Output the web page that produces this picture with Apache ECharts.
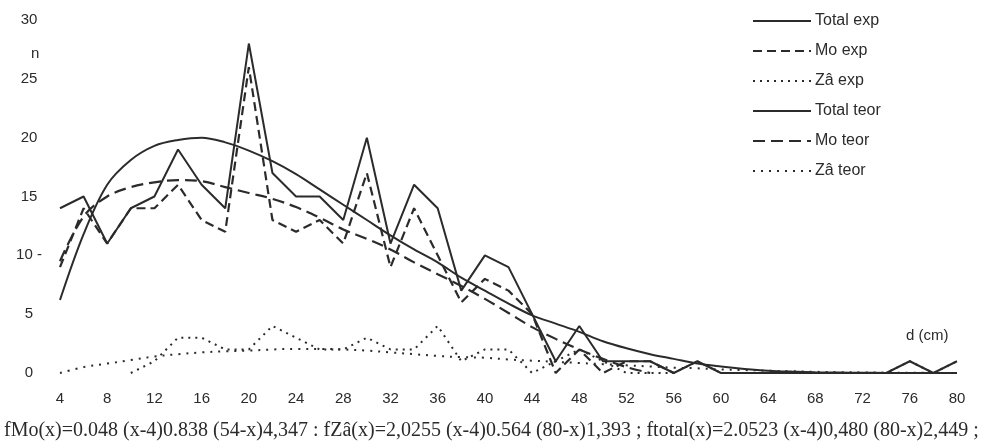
<!DOCTYPE html>
<html>
<head>
<meta charset="utf-8">
<script src="https://cdn.jsdelivr.net/npm/echarts@6/dist/echarts.min.js"></script>
<style>
  html, body { margin: 0; padding: 0; background: #fff; }
  #chart { width: 984px; height: 447px; }
</style>
</head>
<body>
<div id="chart"></div>
<script>
// Diameter classes (cm)
const diameters = [4, 6, 8, 10, 12, 14, 16, 18, 20, 22, 24, 26, 28, 30, 32, 34, 36, 38, 40, 42,
                   44, 46, 48, 50, 52, 54, 56, 58, 60, 62, 64, 66, 68, 70, 72, 74, 76, 78, 80];

// Observed numbers of trees per class
const totalExp = [14, 15, 11, 14, 15, 19, 16, 14, 28, 17, 15, 15, 13, 20, 11, 16, 14, 7, 10, 9,
                  5, 1, 4, 1, 1, 1, 0, 1, 0, 0, 0, 0, 0, 0, 0, 0, 1, 0, 1];
const moExp    = [9, 14, 11, 14, 14, 16, 13, 12, 26, 13, 12, 13, 11, 17, 9, 14, 10, 6, 8, 7,
                  5, 0, 2, 0, 1, 1, 0, null, null, null, null, null, null, null, null, null, null, null, null];
const zaExp    = [null, null, null, 0, 1, 3, 3, 2, 2, 4, 3, 2, 2, 3, 2, 2, 4, 1, 2, 2,
                  0, 1, 2, 1, 0, 0, 0, 1, 0, 0, 0, 0, 0, 0, 0, 0, 1, 0, 1];

// Fitted (theoretical) distributions
const totalTeor = [6.2, 11.8, 16.0, 18.1, 19.3, 19.8, 20.0, 19.6, 18.9, 18.0, 16.9, 15.6, 14.3, 13.0, 11.7, 10.5, 9.4, 8.1, 7.0, 5.9,
                   4.9, 4.2, 3.5, 2.7, 2.1, 1.6, 1.2, 0.8, 0.55, 0.35, 0.2, 0.12, 0.07, 0.04, 0.02, 0.01, 0, 0, 0];
const moTeor    = [9.5, 13.3, 15.0, 15.8, 16.2, 16.4, 16.3, 15.8, 15.3, 14.8, 14.1, 13.2, 12.2, 11.4, 10.5, 9.4, 8.4, 7.4, 6.3, 5.1,
                   3.9, 2.9, 2.0, 1.2, 0.5, 0, null, null, null, null, null, null, null, null, null, null, null, null, null];
const zaTeor    = [0, 0.5, 0.8, 1.1, 1.4, 1.6, 1.75, 1.85, 1.9, 2.0, 2.05, 2.05, 2.0, 1.9, 1.75, 1.6, 1.45, 1.35, 1.3, 1.15,
                   1.05, 0.95, 0.85, 0.75, 0.65, 0.55, 0.45, 0.4, 0.3, 0.25, 0.2, 0.15, 0.1, 0.07, 0.05, 0.03, 0.02, 0.01, 0];

// Axis ticks
const xTicks = [4, 8, 12, 16, 20, 24, 28, 32, 36, 40, 44, 48, 52, 56, 60, 64, 68, 72, 76, 80];
const yTicks = [0, 5, 10, 15, 20, 25, 30];

const seriesNames = ['Total exp', 'Mo exp', 'Zâ exp', 'Total teor', 'Mo teor', 'Zâ teor'];
const formulaText = 'fMo(x)=0.048 (x-4)0.838 (54-x)4,347 : fZâ(x)=2,0255 (x-4)0.564 (80-x)1,393 ; ftotal(x)=2.0523 (x-4)0,480 (80-x)2,449 ;';

const ink = '#2b2b2b';
const sans = 'Liberation Sans, Arial, sans-serif';
const pairs = vals => diameters.map((d, i) => [d, vals[i]]);

function lineSeries(name, vals, width, type, smooth) {
  return {
    name: name,
    type: 'line',
    data: pairs(vals),
    symbol: 'none',
    smooth: smooth ? 0.35 : false,
    connectNulls: false,
    lineStyle: { color: ink, width: width, type: type, cap: 'butt' },
    itemStyle: { color: ink },
    emphasis: { disabled: true },
    animation: false
  };
}

const chart = echarts.init(document.getElementById('chart'), null, { renderer: 'canvas' });
chart.setOption({
  backgroundColor: '#ffffff',
  animation: false,
  grid: { left: 60, right: 27, top: 20, bottom: 74 },
  title: {
    text: 'n', left: 26, top: 41,
    textStyle: { fontFamily: sans, fontSize: 15, fontWeight: 'normal', color: ink }
  },
  legend: {
    orient: 'vertical',
    left: 752, top: 13,
    padding: 0,
    itemWidth: 58, itemHeight: 14, itemGap: 14,
    itemStyle: { opacity: 0 },
    data: seriesNames,
    textStyle: { fontFamily: sans, fontSize: 16, color: ink, padding: [0, 0, 0, -1] }
  },
  xAxis: {
    type: 'value',
    min: xTicks[0], max: xTicks[xTicks.length - 1], interval: 4,
    axisLine: { show: false }, axisTick: { show: false }, splitLine: { show: false },
    axisLabel: { margin: 18, fontFamily: sans, fontSize: 15, color: ink }
  },
  yAxis: {
    type: 'value',
    min: yTicks[0], max: yTicks[yTicks.length - 1], interval: 5,
    axisLine: { show: false }, axisTick: { show: false }, splitLine: { show: false },
    axisLabel: {
      margin: 31, align: 'center',
      fontFamily: sans, fontSize: 15, color: ink,
      formatter: v => (v === 10 ? '10 -' : String(v))
    }
  },
  graphic: [
    {
      type: 'text', left: 906, top: 328,
      style: { text: 'd (cm)', font: '15px "Liberation Sans", Arial, sans-serif', fill: ink }
    },
    {
      type: 'text', left: 4, top: 421,
      style: { text: formulaText, font: '20px "Liberation Serif", "Times New Roman", serif', fill: ink }
    }
  ],
  series: [
    lineSeries('Total exp', totalExp, 2, 'solid', false),
    lineSeries('Mo exp', moExp, 2.2, [9, 5], false),
    lineSeries('Zâ exp', zaExp, 2, [2, 5], false),
    lineSeries('Total teor', totalTeor, 2, 'solid', true),
    lineSeries('Mo teor', moTeor, 2.2, [12, 6], true),
    lineSeries('Zâ teor', zaTeor, 2, [2, 6], true)
  ]
});
</script>
</body>
</html>
